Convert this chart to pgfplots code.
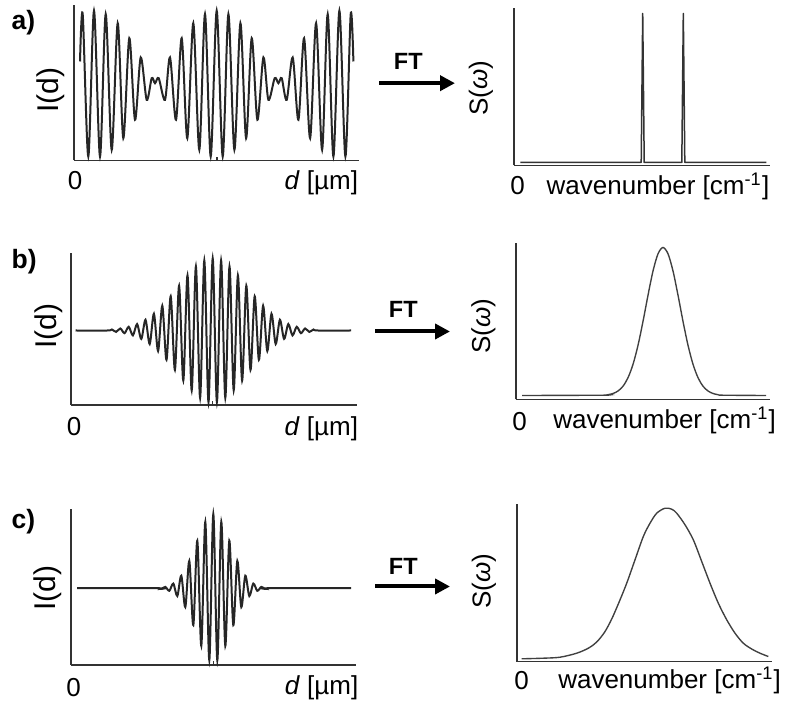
\documentclass[border=0pt]{standalone}
\usepackage{pgfplots}
\pgfplotsset{compat=1.18}
\usepackage{fontspec}
\setmainfont{Liberation Sans}
\usetikzlibrary{arrows.meta}
\newcommand\fs{\fontsize{10.4}{12}\selectfont}
\newcommand\fsI{\fontsize{12}{14}\selectfont}
\newcommand\fsFT{\fontsize{9.4}{11}\selectfont\bfseries}
\newcommand\fsP{\fontsize{10.6}{12}\selectfont\bfseries}
\pgfplotsset{
  base/.style={scale only axis, axis x line*=bottom, axis y line*=left,
    xtick=\empty, ytick=\empty,
    axis line style={draw=black!80, line width=0.7pt},
    clip=false, xmin=0, ymin=0, anchor=south west},
  intf/.style={base, xtick={#1}, xticklabels={\relax}, tick align=inside,
    xticklabel style={text opacity=0},
    major tick length=1.4pt, tick style={black!80, line width=0.6pt}},
  icurve/.style={black!85, line width=0.8pt, smooth, no marks},
  scurve/.style={black!75, line width=0.55pt, smooth, no marks},
}
\begin{document}
\begin{tikzpicture}
% ---------- row a ----------
\begin{axis}[intf=142.7, at={(29.72pt,-63.6pt)}, width=114pt, height=62.28pt, xmax=285, ymax=155.7]
\addplot[icurve] coordinates {
(5.7,99) (8.4,146.3) (14.0,4) (19.7,149.7) (25.7,4) (31.4,146.3) (37.4,10.7) (43.4,137.3)
(49.0,22.3) (55.0,122.3) (60.7,40.7) (66.4,103) (72.4,60.7) (77.4,82.3) (80.7,77.3) (84.4,82.3)
(90.7,60.7) (95.7,103) (101.7,40.7) (107.4,122.3) (113.0,22.3) (119.0,137.3) (125.0,10.7)
(130.7,146.3) (136.4,4) (142.4,149.7) (148.4,4) (154.1,146.3) (160.1,10.7) (166.1,137.3)
(171.8,22.3) (177.4,122.3) (183.1,40.7) (189.1,103) (194.1,60.7) (200.4,82.3) (204.1,77.3)
(207.4,82.3) (212.4,60.7) (218.4,103) (224.1,40.7) (229.8,122.3) (235.8,22.3) (241.8,137.3)
(247.8,10.7) (253.4,146.3) (259.1,4) (265.1,149.7) (271.1,4) (276.4,146.3) (279.1,99)};
\end{axis}
\begin{axis}[base, at={(205.72pt,-65.6pt)}, width=102.28pt, height=62.8pt, xmax=255.7, ymax=157]
\addplot[black!80, line width=0.6pt, no marks, line join=round] coordinates {
(6,3) (126.9,3) (128.4,152) (129.9,3) (167.5,3) (169,152) (170.5,3) (252,3)};
\end{axis}
% ---------- row b ----------
\begin{axis}[intf=142, at={(28.28pt,-161.32pt)}, width=114.52pt, height=60.52pt, xmax=286.3, ymax=151.3]
\addplot[icurve] coordinates {
(4.8,74.3) (37,74.3)
(41.2,75.3) (45.4,72.9) (49.6,76.3) (53.8,71.6) (58.0,78.0) (62.2,69.4) (66.4,80.7) (70.6,65.9)
(74.8,85.0) (79.0,60.8) (83.2,91.0) (87.4,53.8) (91.6,99.0) (95.8,45.0) (100.0,108.5) (104.2,34.9)
(108.4,119.0) (112.6,24.3) (116.8,129.4) (121.0,14.5) (125.2,138.2) (129.4,7.0) (133.6,144.2)
(137.8,2.8) (142.0,146.3) (146.2,2.8) (150.4,144.2) (154.6,7.0) (158.8,138.2) (163.0,14.5)
(167.2,129.4) (171.4,24.3) (175.6,119.0) (179.8,34.9) (184.0,108.5) (188.2,45.0) (192.4,99.0)
(196.6,53.8) (200.8,91.0) (205.0,60.8) (209.2,85.0) (213.4,65.9) (217.6,80.7) (221.8,69.4)
(226.0,78.0) (230.2,71.6) (234.4,76.3) (238.6,72.9) (242.8,75.3)
(247,74.3) (280.3,74.3)};
\end{axis}
\begin{axis}[base, at={(206.28pt,-159.2pt)}, width=101.72pt, height=62.4pt, xmax=254.3, ymax=156]
\addplot[scurve] coordinates {
(6.3,4) (87.3,4.3) (92.3,4.8) (97.3,6.0) (102.3,8.5) (107.3,13.3) (112.3,21.8) (117.3,35.2)
(122.3,54.2) (127.3,78.1) (132.3,104.3) (137.3,128.5) (142.3,145.7) (147.3,152) (152.3,145.7)
(157.3,128.5) (162.3,104.3) (167.3,78.1) (172.3,54.2) (177.3,35.2) (182.3,21.8) (187.3,13.3)
(192.3,8.5) (197.3,6.0) (202.3,4.8) (207.3,4.3) (250.3,4)};
\end{axis}
% ---------- row c ----------
\begin{axis}[intf=142.3, at={(28.4pt,-265.32pt)}, width=114pt, height=62.52pt, xmax=285, ymax=156.3]
\addplot[icurve] coordinates {
(6,76.6) (86,76.6)
(90.3,75.9) (94.3,77.9) (98.3,74.0) (102.3,81.2) (106.3,68.8) (110.3,89.1) (114.3,57.7)
(118.3,103.8) (122.3,39.7) (126.3,124.0) (130.3,19.0) (134.3,142.8) (138.3,4.6) (142.3,150.6)
(146.3,4.6) (150.3,142.8) (154.3,19.0) (158.3,124.0) (162.3,39.7) (166.3,103.8) (170.3,57.7)
(174.3,89.1) (178.3,68.8) (182.3,81.2) (186.3,74.0) (190.3,77.9) (194.3,75.9)
(198.5,76.6) (280,76.6)};
\end{axis}
\begin{axis}[base, at={(206.68pt,-264pt)}, width=102.12pt, height=63.2pt, xmax=255.3, ymax=158]
\addplot[scurve] coordinates {
(5,2.7) (26.6,3.3) (43.3,4.3) (60,8.3) (72,13.5) (80,19.5) (88,29.5) (95,42.5) (102,58.5) (110,78.3)
(118.3,101.7) (126.6,125) (133.3,138.3) (140,148.3) (148.3,153.3) (155,152.3) (160,148.3)
(168.3,136.7) (176.6,121.7) (185,100) (193.3,78.3) (201.6,58.3) (210,41.7) (218.3,28.3)
(226.6,18.3) (235,12.5) (243.3,8.3) (251.6,5)};
\end{axis}
% ---------- text and arrows ----------
\begin{scope}[x=0.4pt, y=-0.4pt, every node/.style={inner sep=0pt, outer sep=0pt}]
\path[use as bounding box] (0,0) rectangle (786,700);
\node[anchor=base west, font=\fsP] at (11.7,28) {a)};
\node[anchor=base west, font=\fsP] at (11.7,267) {b)};
\node[anchor=base west, font=\fsP] at (11.7,527) {c)};
% row a
\node[anchor=base, font=\fs] at (75,188) {0};
\node[anchor=base east, font=\fs] at (358,188) {\textit{d} [µm]};
\node[rotate=90, font=\fsI] at (50.8,89) {I(d)};
\node[font=\fsFT] at (408.3,60) {FT};
\draw[line width=1.6pt, -{Triangle[length=6pt, width=6pt]}] (379.3,81.7) -- (455,81.7);
\node[rotate=90, font=\fs] at (480.8,86.7) {S(\textit{ω})};
\node[anchor=base, font=\fs] at (517.5,193) {0};
\node[anchor=base west, font=\fs] at (546.7,193) {wavenumber [cm\textsuperscript{-1}]};
% row b
\node[anchor=base, font=\fs] at (74,434) {0};
\node[anchor=base east, font=\fs] at (358,434) {\textit{d} [µm]};
\node[rotate=90, font=\fsI] at (49,325) {I(d)};
\node[font=\fsFT] at (403.3,308.3) {FT};
\draw[line width=1.6pt, -{Triangle[length=6pt, width=6pt]}] (375,330) -- (450,330);
\node[rotate=90, font=\fs] at (483.3,325) {S(\textit{ω})};
\node[anchor=base, font=\fs] at (519.7,429) {0};
\node[anchor=base west, font=\fs] at (553.3,427) {wavenumber [cm\textsuperscript{-1}]};
% row c
\node[anchor=base, font=\fs] at (73.7,695) {0};
\node[anchor=base east, font=\fs] at (358.3,693) {\textit{d} [µm]};
\node[rotate=90, font=\fsI] at (47.5,587) {I(d)};
\node[font=\fsFT] at (403.3,565) {FT};
\draw[line width=1.6pt, -{Triangle[length=6pt, width=6pt]}] (375,585) -- (450,585);
\node[rotate=90, font=\fs] at (484,580) {S(\textit{ω})};
\node[anchor=base, font=\fs] at (521.7,688) {0};
\node[anchor=base west, font=\fs] at (558.3,687) {wavenumber [cm\textsuperscript{-1}]};
\end{scope}
\end{tikzpicture}
\end{document}
